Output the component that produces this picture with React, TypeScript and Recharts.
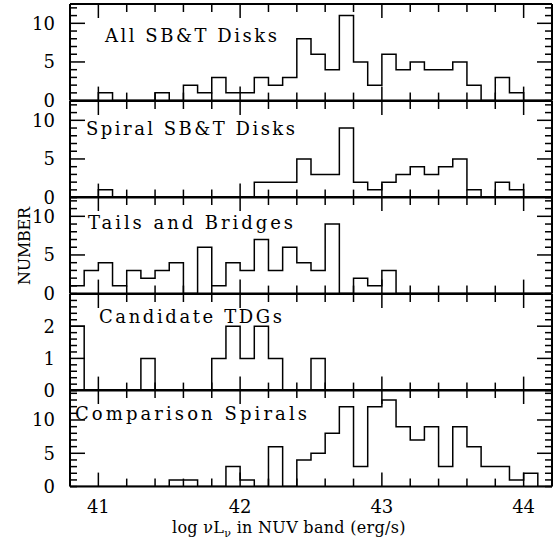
import React from 'react';
import { LineChart, Line, XAxis, YAxis } from 'recharts';

// bin edges (log nu L_nu), bins are 0.1 dex wide
const binEdges = [
  40.8, 40.9, 41.0, 41.1, 41.2, 41.3, 41.4, 41.5, 41.6, 41.7, 41.8, 41.9,
  42.0, 42.1, 42.2, 42.3, 42.4, 42.5, 42.6, 42.7, 42.8, 42.9, 43.0, 43.1,
  43.2, 43.3, 43.4, 43.5, 43.6, 43.7, 43.8, 43.9, 44.0, 44.1, 44.2,
];

// counts per bin, one array per panel
const allDisks = [0, 0, 1, 0, 0, 0, 1, 0, 2, 1, 3, 1, 1, 3, 2, 3, 8, 6, 4, 11, 5, 2, 6, 4, 5, 4, 4, 5, 2, 0, 3, 1, 0, 0];
const spiralDisks = [0, 0, 1, 0, 0, 0, 0, 0, 0, 0, 0, 0, 0, 2, 2, 2, 5, 3, 3, 9, 2, 1, 2, 3, 4, 3, 4, 5, 1, 0, 2, 1, 0, 0];
const tailsBridges = [1, 3, 4, 1, 3, 2, 3, 4, 0, 6, 1, 4, 3, 7, 3, 6, 4, 3, 9, 0, 2, 1, 3, 0, 0, 0, 0, 0, 0, 0, 0, 0, 0, 0];
const candidateTdgs = [2, 0, 0, 0, 0, 1, 0, 0, 0, 0, 1, 2, 1, 2, 1, 0, 0, 1, 0, 0, 0, 0, 0, 0, 0, 0, 0, 0, 0, 0, 0, 0, 0, 0];
const comparisonSpirals = [0, 0, 0, 0, 0, 0, 0, 1, 1, 0, 0, 3, 1, 0, 6, 0, 4, 5, 8, 12, 3, 12, 13, 9, 7, 9, 3, 9, 6, 3, 3, 1, 2, 0];

const panelTitles = ['All SB&T Disks', 'Spiral SB&T Disks', 'Tails and Bridges', 'Candidate TDGs', 'Comparison Spirals'];

// ticks
const xTicks = [41, 41.2, 41.4, 41.6, 41.8, 42, 42.2, 42.4, 42.6, 42.8, 43, 43.2, 43.4, 43.6, 43.8, 44];
const yTicksCount = [0, 1, 2, 3, 4, 5, 6, 7, 8, 9, 10, 11, 12];
const yTicksWide = [0, 1, 2, 3, 4, 5, 6, 7, 8, 9, 10, 11, 12, 13, 14];
const yTicksTdg = [0, 0.2, 0.4, 0.6, 0.8, 1, 1.2, 1.4, 1.6, 1.8, 2, 2.2, 2.4, 2.6, 2.8];
const yLabelsCount = [0, 5, 10];
const yLabelsTdg = [0, 1, 2];

const FONT = '"DejaVu Serif", serif';
const W = 553;
const PANEL_H = 96.6;
const PAD = 10;

const near = (a: number, b: number) => Math.abs(a - b) < 1e-6;

function xTick(p: any, side: 'top' | 'bottom', labels: boolean) {
  const v = p.payload.value;
  const major = near(v, Math.round(v));
  const len = major ? 14 : 8;
  const dir = side === 'bottom' ? -1 : 1;
  return (
    <g>
      <line x1={p.x} x2={p.x} y1={p.y} y2={p.y + dir * len} stroke="#000" strokeWidth={1.5} />
      {labels && major && (
        <text x={p.x} y={p.y + 26} textAnchor="middle" fontSize={18} fontFamily={FONT} fill="#000">
          {v}
        </text>
      )}
    </g>
  );
}

function yTick(p: any, side: 'left' | 'right', majors: number[], step: number) {
  const v = p.payload.value;
  const major = v > 0 && near(v / step, Math.round(v / step));
  const len = major ? 15 : 7;
  const dir = side === 'left' ? 1 : -1;
  const labelled = majors.some((m) => near(m, v));
  return (
    <g>
      <line x1={p.x} x2={p.x + dir * len} y1={p.y} y2={p.y} stroke="#000" strokeWidth={1.5} />
      {side === 'left' && labelled && (
        <text x={p.x - 15} y={p.y + 6.5} textAnchor="end" fontSize={18} fontFamily={FONT} fill="#000">
          {v}
        </text>
      )}
    </g>
  );
}

interface PanelProps {
  values: number[];
  top: number;
  yMax: number;
  yTicks: number[];
  yLabels: number[];
  step: number;
  showX?: boolean;
}

function Panel({ values, top, yMax, yTicks, yLabels, step, showX = false }: PanelProps) {
  const data = binEdges.map((x, i) => ({ x, n: i < values.length ? values[i] : 0 }));
  const bottomH = showX ? 60 : PAD;
  const frame = { stroke: '#000', strokeWidth: 2 };
  return (
    <div style={{ position: 'absolute', left: 0, top: top - PAD }}>
      <LineChart width={W} height={PANEL_H + PAD + bottomH} data={data} margin={{ top: 0, right: 0, bottom: 0, left: 0 }}>
        <XAxis
          xAxisId="b"
          dataKey="x"
          type="number"
          domain={[40.8, 44.2]}
          ticks={xTicks}
          interval={0}
          height={bottomH}
          tickSize={0}
          tickMargin={0}
          axisLine={frame}
          tickLine={false}
          tick={(p: any) => xTick(p, 'bottom', showX)}
          allowDataOverflow
        />
        <XAxis
          xAxisId="t"
          orientation="top"
          dataKey="x"
          type="number"
          domain={[40.8, 44.2]}
          ticks={xTicks}
          interval={0}
          height={PAD}
          tickSize={0}
          tickMargin={0}
          axisLine={frame}
          tickLine={false}
          tick={(p: any) => xTick(p, 'top', false)}
          allowDataOverflow
        />
        <YAxis
          yAxisId="l"
          type="number"
          domain={[0, yMax]}
          ticks={yTicks}
          interval={0}
          width={70}
          tickSize={0}
          tickMargin={0}
          axisLine={frame}
          tickLine={false}
          tick={(p: any) => yTick(p, 'left', yLabels, step)}
          allowDataOverflow
        />
        <YAxis
          yAxisId="r"
          orientation="right"
          type="number"
          domain={[0, yMax]}
          ticks={yTicks}
          interval={0}
          width={1}
          tickSize={0}
          tickMargin={0}
          axisLine={frame}
          tickLine={false}
          tick={(p: any) => yTick(p, 'right', yLabels, step)}
          allowDataOverflow
        />
        <Line
          xAxisId="b"
          yAxisId="l"
          type="stepAfter"
          dataKey="n"
          stroke="#000"
          strokeWidth={1.5}
          dot={false}
          isAnimationActive={false}
        />
        <Line
          xAxisId="t"
          yAxisId="r"
          type="stepAfter"
          dataKey="n"
          stroke="none"
          dot={false}
          isAnimationActive={false}
        />
      </LineChart>
    </div>
  );
}

const panelTops = [4, 100.6, 197.2, 293.8, 390.4];
const titlePos = [
  { x: 105, y: 42, w: 172 },
  { x: 86, y: 135, w: 209 },
  { x: 88, y: 229, w: 205 },
  { x: 99, y: 323, w: 183 },
  { x: 75, y: 420, w: 232 },
];

export default function App() {
  return (
    <div style={{ position: 'absolute', left: 0, top: 0, width: W, height: 552, background: '#fff' }}>
      <Panel values={allDisks} top={panelTops[0]} yMax={12.5} yTicks={yTicksCount} yLabels={yLabelsCount} step={5} />
      <Panel values={spiralDisks} top={panelTops[1]} yMax={12.5} yTicks={yTicksCount} yLabels={yLabelsCount} step={5} />
      <Panel values={tailsBridges} top={panelTops[2]} yMax={12.5} yTicks={yTicksCount} yLabels={yLabelsCount} step={5} />
      <Panel values={candidateTdgs} top={panelTops[3]} yMax={3} yTicks={yTicksTdg} yLabels={yLabelsTdg} step={1} />
      <Panel values={comparisonSpirals} top={panelTops[4]} yMax={14.5} yTicks={yTicksWide} yLabels={yLabelsCount} step={5} showX />

      {/* titles and axis labels */}
      <svg width={W} height={552} style={{ position: 'absolute', left: 0, top: 0, pointerEvents: 'none' }}>
        {panelTitles.map((t, i) => (
          <text
            key={t}
            x={titlePos[i].x}
            y={titlePos[i].y}
            fontSize={18}
            fontFamily={FONT}
            fill="#000"
            textLength={titlePos[i].w}
            lengthAdjust="spacing"
          >
            {t}
          </text>
        ))}
        <text
          x={24}
          y={246}
          transform="rotate(-90 24 246)"
          textAnchor="middle"
          dominantBaseline="central"
          fontSize={16}
          fontFamily={FONT}
          fill="#000"
          textLength={78}
          lengthAdjust="spacing"
        >
          NUMBER
        </text>
        <text x={172} y={533} fontSize={16} fontFamily={FONT} fill="#000" letterSpacing={0.3}>
          log {'\u03BD'}L
          <tspan dy={4} fontSize={11}>{'\u03BD'}</tspan>
          <tspan dy={-4}> in NUV band (erg/s)</tspan>
        </text>
      </svg>
    </div>
  );
}
